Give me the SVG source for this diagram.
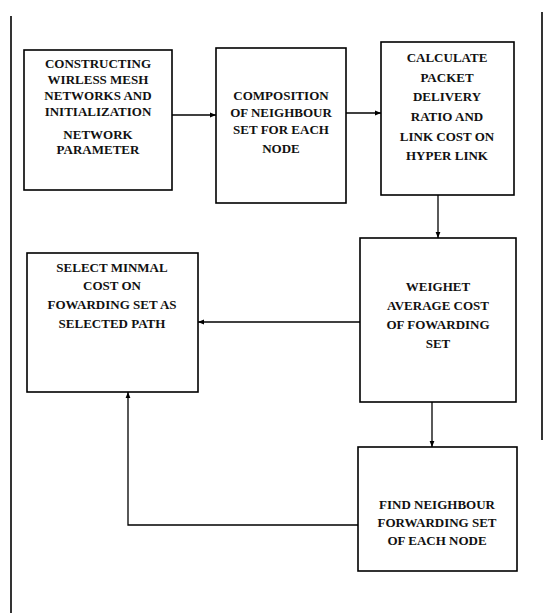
<svg xmlns="http://www.w3.org/2000/svg" width="545" height="613" viewBox="0 0 545 613">
<style>
.box{fill:#fff;stroke:#000;stroke-width:1.6}
.t{font-family:"Liberation Serif","Times New Roman",serif;font-size:13px;font-weight:bold;text-anchor:middle;fill:#111}
.c{fill:none;stroke:#000;stroke-width:1.3}
.frame{stroke:#000;stroke-width:1.6}
</style>
<defs>
<marker id="ah" viewBox="0 0 10 10" refX="10" refY="5" markerWidth="6" markerHeight="6" orient="auto" markerUnits="userSpaceOnUse">
<path d="M0,1 L10,5 L0,9 z" fill="#000"/>
</marker>
</defs>
<line class="frame" x1="11" y1="16" x2="11" y2="613"/>
<line class="frame" x1="542" y1="12" x2="542" y2="440" stroke-width="1"/>
<g id="connectors">
<line class="c" x1="172" y1="115" x2="216" y2="115" marker-end="url(#ah)"/>
<line class="c" x1="346" y1="113" x2="381" y2="113" marker-end="url(#ah)"/>
<line class="c" x1="438" y1="195" x2="438" y2="238" marker-end="url(#ah)"/>
<line class="c" x1="360" y1="322" x2="198" y2="322" marker-end="url(#ah)"/>
<line class="c" x1="432" y1="402" x2="432" y2="447" stroke-width="2" marker-end="url(#ah)"/>
<polyline class="c" points="358,525 128,525 128,392" stroke-width="1" marker-end="url(#ah)"/>
</g>
<g id="n1">
<rect class="box" x="24" y="50" width="148" height="140"/>
<text class="t" x="98" y="68">CONSTRUCTING</text>
<text class="t" x="98" y="84">WIRLESS MESH</text>
<text class="t" x="98" y="100">NETWORKS AND</text>
<text class="t" x="98" y="116">INITIALIZATION</text>
<text class="t" x="98" y="139">NETWORK</text>
<text class="t" x="98" y="154">PARAMETER</text>
</g>
<g id="n2">
<rect class="box" x="216" y="48" width="130" height="155"/>
<text class="t" x="281" y="100">COMPOSITION</text>
<text class="t" x="281" y="117">OF NEIGHBOUR</text>
<text class="t" x="281" y="134">SET FOR EACH</text>
<text class="t" x="281" y="153">NODE</text>
</g>
<g id="n3">
<rect class="box" x="381" y="42" width="133" height="153"/>
<text class="t" x="447" y="62">CALCULATE</text>
<text class="t" x="447" y="82">PACKET</text>
<text class="t" x="447" y="101">DELIVERY</text>
<text class="t" x="447" y="121">RATIO AND</text>
<text class="t" x="447" y="141">LINK COST ON</text>
<text class="t" x="447" y="160">HYPER LINK</text>
</g>
<g id="n4">
<rect class="box" x="360" y="238" width="156" height="164"/>
<text class="t" x="438" y="291">WEIGHET</text>
<text class="t" x="438" y="310">AVERAGE COST</text>
<text class="t" x="438" y="329">OF FOWARDING</text>
<text class="t" x="438" y="348">SET</text>
</g>
<g id="n5">
<rect class="box" x="27" y="253" width="171" height="139"/>
<text class="t" x="112" y="272">SELECT MINMAL</text>
<text class="t" x="112" y="290">COST ON</text>
<text class="t" x="112" y="309">FOWARDING SET AS</text>
<text class="t" x="112" y="328">SELECTED PATH</text>
</g>
<g id="n6">
<rect class="box" x="358" y="447" width="159" height="124"/>
<text class="t" x="437" y="509">FIND NEIGHBOUR</text>
<text class="t" x="437" y="527">FORWARDING SET</text>
<text class="t" x="437" y="545">OF EACH NODE</text>
</g>
</svg>
